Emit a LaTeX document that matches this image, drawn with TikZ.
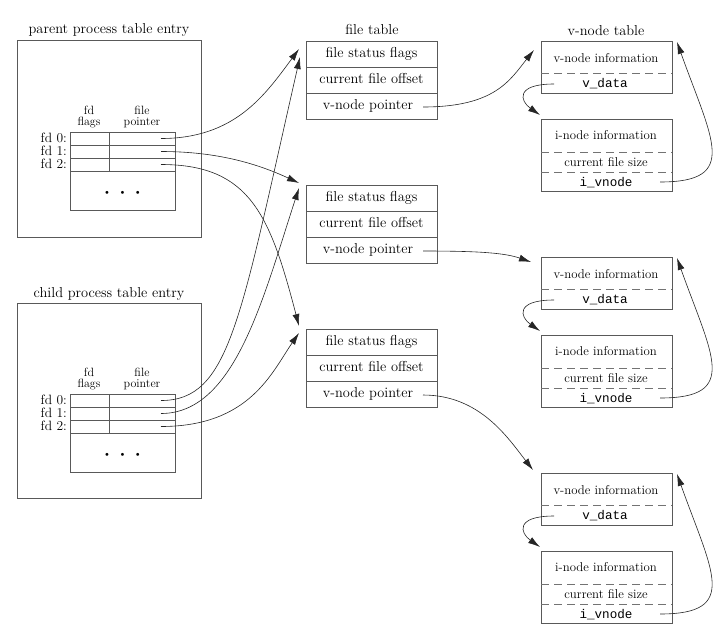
\documentclass[tikz,border=0pt]{standalone}
\usepackage{fontspec}
\setmonofont{Liberation Mono}
\usetikzlibrary{arrows.meta,calc}
\begin{document}
\begin{tikzpicture}[x=1pt,y=-1pt,
  box/.style={draw=black!65,line width=0.75pt,inner sep=0pt,outer sep=0pt,anchor=north west},
  sep/.style={draw=black!65,line width=0.75pt},
  dsep/.style={draw=black!55,line width=0.75pt,dash pattern=on 8pt off 5pt},
  ttl/.style={inner sep=0pt,anchor=base,font=\fontsize{14.4}{17}\selectfont},
  row/.style={inner sep=0pt,anchor=base,font=\fontsize{14.4}{17}\selectfont},
  vtxt/.style={inner sep=0pt,anchor=base,font=\fontsize{12.8}{15}\selectfont},
  vmono/.style={inner sep=0pt,anchor=base,font=\fontsize{12.6}{15}\selectfont\ttfamily},
  hdr/.style={inner sep=0pt,anchor=base,font=\fontsize{12}{13}\selectfont},
  fdl/.style={inner sep=0pt,anchor=base east,font=\fontsize{13.5}{15}\selectfont},
  dotsn/.style={inner sep=0pt,anchor=center,font=\fontsize{11}{12}\selectfont},
  arr/.style={draw=black!85,line width=0.6pt,-{Latex[length=12pt,width=7pt]}}
]
\useasboundingbox (0,0) rectangle (720,633);

% ---------- process table entries ----------
\node[box,minimum width=184pt,minimum height=197pt] (pbox) at (17,40) {};
\node[ttl] (ptitle) at (109,33.3) {parent process table entry};
\node[box,minimum width=184pt,minimum height=195pt] (cbox) at (17,303) {};
\node[ttl] (ctitle) at (109,297) {child process table entry};

\foreach \nm/\t in {p/132,c/394}{
  \node[box,minimum width=105pt,minimum height=78pt] (\nm tab) at (70,\t) {};
  \draw[sep] (70,\t+13) -- (175,\t+13);
  \draw[sep] (70,\t+26) -- (175,\t+26);
  \draw[sep] (70,\t+39) -- (175,\t+39);
  \draw[sep] (109,\t) -- (109,\t+39);
  \node[hdr] (\nm hfd) at (89,\t-18) {fd};
  \node[hdr] (\nm hfl) at (89,\t-7) {flags};
  \node[hdr] (\nm hfi) at (142,\t-18) {file};
  \node[hdr] (\nm hpo) at (142,\t-7) {pointer};
  \node[fdl] (\nm l0) at (67,\t+10) {fd 0:};
  \node[fdl] (\nm l1) at (67,\t+23) {fd 1:};
  \node[fdl] (\nm l2) at (67,\t+36) {fd 2:};
  \node[dotsn] (\nm dots) at (122.5,\t+61) {\textbullet\hspace{7pt}\textbullet\hspace{7pt}\textbullet};
  \coordinate (\nm fd0) at (161,\t+6.5);
  \coordinate (\nm fd1) at (161,\t+19.5);
  \coordinate (\nm fd2) at (161,\t+32.5);
}

% ---------- file tables ----------
\node[ttl] (fttitle) at (372,34.7) {file table};
\foreach \i/\t in {1/41,2/185,3/329}{
  \node[box,minimum width=131pt,minimum height=78pt] (ft\i) at (306,\t) {};
  \draw[sep] (306,\t+26) -- (437,\t+26);
  \draw[sep] (306,\t+52) -- (437,\t+52);
  \node[row] (ft\i a) at (371.5,\t+16) {file status flags};
  \node[row] (ft\i b) at (371.5,\t+42) {current file offset};
  \node[row] (ft\i c) at (368,\t+68) {v-node pointer};
  \coordinate (vp\i) at (423,\t+66);
}

% ---------- v-node tables ----------
\node[ttl] (vttitle) at (606,35) {v-node table};
\foreach \i/\o in {1/0,2/216,3/432}{
  \node[box,minimum width=131pt,minimum height=52pt] (vn\i) at (541,41+\o) {};
  \draw[dsep] (541,73+\o) -- (672,73+\o);
  \node[vtxt] (vn\i a) at (606,62+\o) {v-node information};
  \node[vmono] (vn\i b) at (605,87+\o) {v\_data};
  \node[box,minimum width=131pt,minimum height=72pt] (in\i) at (541,119+\o) {};
  \draw[dsep] (541,152+\o) -- (672,152+\o);
  \draw[dsep] (541,172+\o) -- (672,172+\o);
  \node[vtxt] (in\i a) at (606,139.5+\o) {i-node information};
  \node[vtxt] (in\i b) at (606,166+\o) {current file size};
  \node[vmono] (in\i c) at (606,186.5+\o) {i\_vnode};
  \coordinate (vd\i) at (554,84+\o);
  \coordinate (vdt\i) at (540,115+\o);
  \coordinate (iv\i) at (660,182+\o);
  \coordinate (ivt\i) at (677,42+\o);
  \draw[arr] (vd\i) .. controls +(-39,0) and +(-20,-14) .. (vdt\i);
  \draw[arr] (iv\i) .. controls +(80,0) and +(35,98) .. (ivt\i);
}

% ---------- arrow tips at file tables ----------
\coordinate (t1p) at (299,49);
\coordinate (t1c) at (300,57);
\coordinate (t2p) at (299,183);
\coordinate (t2c) at (299,188);
\coordinate (t3p) at (299,326);
\coordinate (t3c) at (299,333);

% parent fds
\draw[arr] (pfd0) .. controls (235,138.5) and (265,95) .. (t1p);
\draw[arr] (pfd1) .. controls (220,151.5) and (260,165) .. (t2p);
\draw[arr] (pfd2) .. controls (250,164.5) and (270,215) .. (t3p);
% child fds
\draw[arr] (cfd0) .. controls (230,400.5) and (240,320) .. (t1c);
\draw[arr] (cfd1) .. controls (235,413.5) and (263,298) .. (t2c);
\draw[arr] (cfd2) .. controls (250,426.5) and (272,372) .. (t3c);

% v-node pointers
\coordinate (vt1) at (534,50);
\coordinate (vt2) at (531,262);
\coordinate (vt3) at (533,470);
\draw[arr] (vp1) .. controls (495,107) and (510,80) .. (vt1);
\draw[arr] (vp2) .. controls (480,251) and (505,253) .. (vt2);
\draw[arr] (vp3) .. controls (480,395) and (508,438) .. (vt3);
\end{tikzpicture}
\end{document}
